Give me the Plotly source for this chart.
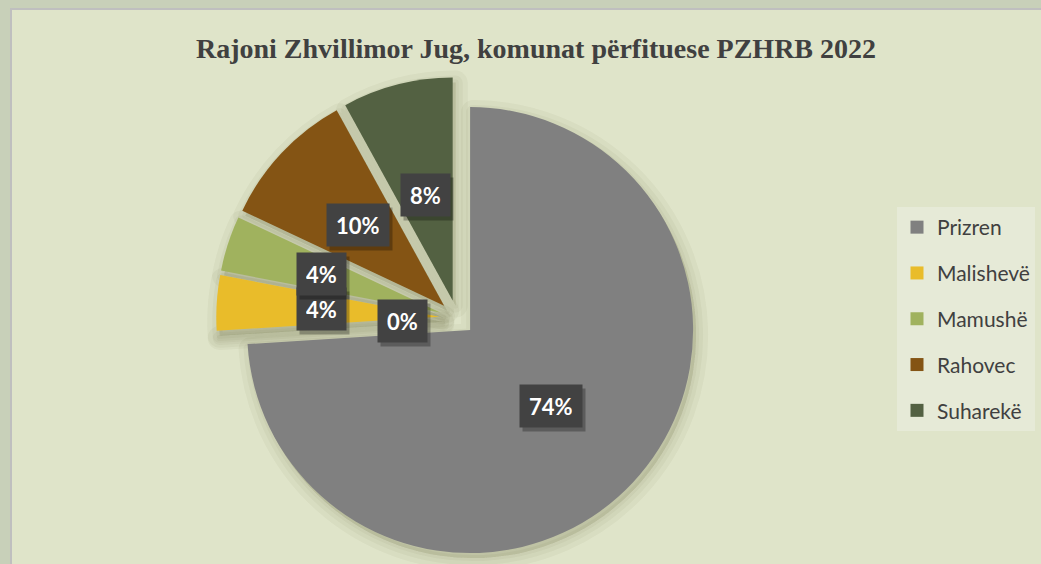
import math
import plotly.graph_objects as go

# ---- data ----
categories = ["Prizren", "", "Malishevë", "Mamushë", "Rahovec", "Suharekë"]
values = [74, 0, 4, 4, 10, 8]
legend_labels = ["Prizren", "Malishevë", "Mamushë", "Rahovec", "Suharekë"]
title_text = "Rajoni Zhvillimor Jug, komunat përfituese PZHRB 2022"

# ---- styles ----
slice_colors = ["#808080", "#808080", "#E9BC2A", "#A0B25E", "#845414", "#536142"]
legend_colors = ["#808080", "#E9BC2A", "#A0B25E", "#845414", "#536142"]
label_radius = [0.58, 0.245, 0.61, 0.64, 0.61, 0.57]  # label distance as fraction of radius

W, H = 1041, 564
CX, CY, R, PULL = 457.1, 317.9, 223.0, 0.08

dom_h = 2 * R * (1 + PULL) / H
cyp = 1 - CY / H
dom_y = [cyp - dom_h / 2, cyp + dom_h / 2]
cxp = CX / W
dom_x = [cxp - 0.3, cxp + 0.3]

fig = go.Figure()

# soft shadow layers under the pie
sdx, sdy = 3 / W, -5 / H
for lw in (24, 14, 6):
    fig.add_trace(go.Pie(
        labels=categories, values=values, sort=False, direction="clockwise",
        rotation=0, pull=[PULL] * len(values),
        marker=dict(colors=["rgba(60,60,30,0.045)"] * len(values),
                    line=dict(color="rgba(60,60,30,0.045)", width=lw)),
        textinfo="none", hoverinfo="skip", showlegend=False,
        domain=dict(x=[dom_x[0] + sdx, dom_x[1] + sdx], y=[dom_y[0] + sdy, dom_y[1] + sdy]),
    ))

fig.add_trace(go.Pie(
    labels=categories, values=values, sort=False, direction="clockwise",
    rotation=0, pull=[PULL] * len(values),
    marker=dict(colors=slice_colors, line=dict(width=0)),
    textinfo="none", showlegend=False,
    domain=dict(x=dom_x, y=dom_y),
))

# legend entries
for lab, col in zip(legend_labels, legend_colors):
    fig.add_trace(go.Scatter(
        x=[None], y=[None], mode="markers", name=lab, legendgroup=lab,
        marker=dict(symbol="square", size=13, color=col),
    ))

# percentage labels in dark boxes
total = sum(values)
annotations = []
cum = 0
for i, v in enumerate(values):
    mid = (cum + v / 2) / total * 2 * math.pi
    cum += v
    rr = label_radius[i] * R
    xp = CX + rr * math.sin(mid)
    yp = CY - rr * math.cos(mid)
    txt = f"{round(100 * v / total)}%"
    common = dict(xref="paper", yref="paper", x=xp / W, y=1 - yp / H,
                  showarrow=False, borderpad=9, height=24,
                  xanchor="center", yanchor="middle")
    annotations.append(dict(text=txt, bgcolor="rgba(0,0,0,0.28)",
                            font=dict(family="Lato", size=22, color="rgba(0,0,0,0)", weight="bold"),
                            xshift=3, yshift=-4, **common))
    annotations.append(dict(text=txt, bgcolor="#424242",
                            font=dict(family="Lato", size=22, color="white", weight="bold"),
                            **common))

fig.update_layout(
    width=W, height=H,
    margin=dict(l=0, r=0, t=0, b=0, autoexpand=False),
    paper_bgcolor="#C8D0B9",
    plot_bgcolor="rgba(0,0,0,0)",
    xaxis=dict(visible=False), yaxis=dict(visible=False),
    title=dict(text=title_text, x=536 / W, xanchor="center", xref="container",
               y=1 - 48 / H, yref="container", yanchor="middle",
               font=dict(family="Liberation Serif", size=28, color="#404040", weight="bold")),
    legend=dict(x=897 / W, y=1 - 207 / H, xanchor="left", yanchor="top",
                bgcolor="#E6EAD7", borderwidth=0, traceorder="grouped",
                tracegroupgap=15.5,
                font=dict(family="Lato", size=21, color="#404040")),
    shapes=[dict(type="rect", xref="paper", yref="paper", layer="below",
                 x0=11 / W, x1=1.05, y0=-0.05, y1=1 - 9 / H,
                 fillcolor="#DFE4C9", line=dict(color="#BFBFBF", width=2))],
    annotations=annotations,
)

fig.write_html("out.html", config={"displayModeBar": False},
               post_script="document.body.style.margin='0';document.body.style.overflow='hidden';")
